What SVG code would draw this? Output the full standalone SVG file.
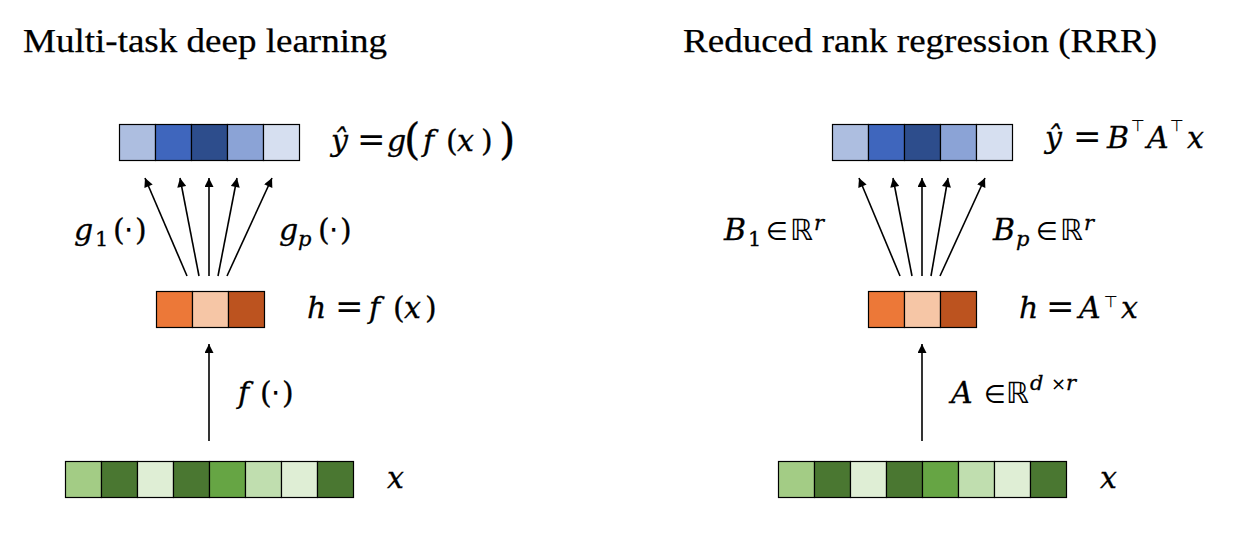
<svg xmlns="http://www.w3.org/2000/svg" width="1249" height="539" viewBox="0 0 1249 539">
<style>
.bg{fill:#ffffff}
.c{stroke:#000;stroke-width:1.2}
.t{font-family:"Liberation Serif",serif;font-size:34px;fill:#000;stroke:#000;stroke-width:0.25}
.m{font-family:"DejaVu Serif",serif;font-style:italic;font-size:30px;fill:#000;stroke:#000;stroke-width:0.3}
.u{font-family:"DejaVu Sans",sans-serif;font-style:normal;stroke-width:0}
.up{font-family:"DejaVu Serif",serif;font-style:normal}
.a{stroke:#000;stroke-width:1.6;fill:none;marker-end:url(#ah)}
.b1{fill:#ADBEE0}.b2{fill:#3F66BD}.b3{fill:#2D4D8C}.b4{fill:#8BA3D6}.b5{fill:#D6DFF0}
.o1{fill:#EC7838}.o2{fill:#F6C6A6}.o3{fill:#BC531F}
.g1{fill:#A3CC85}.g2{fill:#4A7731}.g3{fill:#DFEED5}.g4{fill:#66A544}.g5{fill:#C0DEAF}
</style>
<defs>
<marker id="ah" viewBox="0 0 10 10" refX="10" refY="5" markerWidth="11" markerHeight="9" markerUnits="userSpaceOnUse" orient="auto">
<path d="M0,0 L10,5 L0,10 z" fill="#000"/>
</marker>
</defs>
<rect class="bg" x="0" y="0" width="1249" height="539"/>

<g id="title-left"><text class="t" x="23" y="52" textLength="364" lengthAdjust="spacingAndGlyphs">Multi-task deep learning</text></g>
<g id="title-right"><text class="t" x="683" y="52" textLength="474" lengthAdjust="spacingAndGlyphs">Reduced rank regression (RRR)</text></g>

<g id="left-y">
<rect class="c b1" x="119.5" y="124.5" width="36" height="36"/>
<rect class="c b2" x="155.5" y="124.5" width="36" height="36"/>
<rect class="c b3" x="191.5" y="124.5" width="36" height="36"/>
<rect class="c b4" x="227.5" y="124.5" width="36" height="36"/>
<rect class="c b5" x="263.5" y="124.5" width="36" height="36"/>
<text class="m" y="151"><tspan x="331">ŷ</tspan><tspan class="u" x="357" font-size="34">=</tspan><tspan x="387">g</tspan><tspan class="up" x="404" font-size="42" dy="3">(</tspan><tspan x="423" dy="-3">f</tspan><tspan class="up" x="446">(</tspan><tspan x="457">x</tspan><tspan class="up" x="481">)</tspan><tspan class="up" x="499" font-size="42" dy="3">)</tspan></text>
</g>

<g id="left-h">
<rect class="c o1" x="156.5" y="291.5" width="36" height="36"/>
<rect class="c o2" x="192.5" y="291.5" width="36" height="36"/>
<rect class="c o3" x="228.5" y="291.5" width="36" height="36"/>
<text class="m" y="318"><tspan x="307">h</tspan><tspan class="u" x="335" font-size="34">=</tspan><tspan x="369">f</tspan><tspan class="up" x="393">(</tspan><tspan x="404">x</tspan><tspan class="up" x="425">)</tspan></text>
</g>

<g id="left-x">
<rect class="c g1" x="65.5" y="461.5" width="36" height="36"/>
<rect class="c g2" x="101.5" y="461.5" width="36" height="36"/>
<rect class="c g3" x="137.5" y="461.5" width="36" height="36"/>
<rect class="c g2" x="173.5" y="461.5" width="36" height="36"/>
<rect class="c g4" x="209.5" y="461.5" width="36" height="36"/>
<rect class="c g5" x="245.5" y="461.5" width="36" height="36"/>
<rect class="c g3" x="281.5" y="461.5" width="36" height="36"/>
<rect class="c g2" x="317.5" y="461.5" width="36" height="36"/>
<text class="m" x="387" y="488">x</text>
</g>

<g id="left-labels">
<text class="m" y="240"><tspan x="74">g</tspan><tspan class="up" x="95" font-size="21" dy="6">1</tspan><tspan class="up" x="113" dy="-6">(</tspan><tspan class="u" x="124">⋅</tspan><tspan class="up" x="135">)</tspan></text>
<text class="m" y="240"><tspan x="279">g</tspan><tspan x="298" font-size="21" dy="6">p</tspan><tspan class="up" x="318" dy="-6">(</tspan><tspan class="u" x="329">⋅</tspan><tspan class="up" x="340">)</tspan></text>
<text class="m" y="403"><tspan x="238">f</tspan><tspan class="up" x="260">(</tspan><tspan class="u" x="271">⋅</tspan><tspan class="up" x="282">)</tspan></text>
</g>

<g id="right-y">
<rect class="c b1" x="832.5" y="124.5" width="36" height="36"/>
<rect class="c b2" x="868.5" y="124.5" width="36" height="36"/>
<rect class="c b3" x="904.5" y="124.5" width="36" height="36"/>
<rect class="c b4" x="940.5" y="124.5" width="36" height="36"/>
<rect class="c b5" x="976.5" y="124.5" width="36" height="36"/>
<text class="m" y="148"><tspan x="1045">ŷ</tspan><tspan class="u" x="1073" font-size="34">=</tspan><tspan x="1107">B</tspan><tspan class="u" x="1131" font-size="16" dy="-17">⊤</tspan><tspan x="1147" dy="17">A</tspan><tspan class="u" x="1170" font-size="16" dy="-17">⊤</tspan><tspan x="1187" dy="17">x</tspan></text>
</g>

<g id="right-h">
<rect class="c o1" x="868.5" y="291.5" width="36" height="36"/>
<rect class="c o2" x="904.5" y="291.5" width="36" height="36"/>
<rect class="c o3" x="940.5" y="291.5" width="36" height="36"/>
<text class="m" y="318"><tspan x="1019">h</tspan><tspan class="u" x="1046" font-size="34">=</tspan><tspan x="1079">A</tspan><tspan class="u" x="1104" font-size="16" dy="-11">⊤</tspan><tspan x="1121" dy="11">x</tspan></text>
</g>

<g id="right-x">
<rect class="c g1" x="778.5" y="461.5" width="36" height="36"/>
<rect class="c g2" x="814.5" y="461.5" width="36" height="36"/>
<rect class="c g3" x="850.5" y="461.5" width="36" height="36"/>
<rect class="c g2" x="886.5" y="461.5" width="36" height="36"/>
<rect class="c g4" x="922.5" y="461.5" width="36" height="36"/>
<rect class="c g5" x="958.5" y="461.5" width="36" height="36"/>
<rect class="c g3" x="994.5" y="461.5" width="36" height="36"/>
<rect class="c g2" x="1030.5" y="461.5" width="36" height="36"/>
<text class="m" x="1100" y="488">x</text>
</g>

<g id="right-labels">
<text class="m" y="240"><tspan x="724">B</tspan><tspan class="up" x="748" font-size="21" dy="6">1</tspan><tspan class="u" x="766" font-size="25" dy="-6">∈</tspan><tspan class="u" x="790" font-size="29">ℝ</tspan><tspan x="814" font-size="21" dy="-10">r</tspan></text>
<text class="m" y="240"><tspan x="993">B</tspan><tspan x="1016" font-size="21" dy="6">p</tspan><tspan class="u" x="1036" font-size="25" dy="-6">∈</tspan><tspan class="u" x="1060" font-size="29">ℝ</tspan><tspan x="1084" font-size="21" dy="-10">r</tspan></text>
<text class="m" y="403"><tspan x="951">A</tspan><tspan class="u" x="984" font-size="25">∈</tspan><tspan class="u" x="1006" font-size="29">ℝ</tspan><tspan x="1030" font-size="21" dy="-13">d</tspan><tspan class="u" x="1051" font-size="18">×</tspan><tspan x="1066" font-size="21">r</tspan></text>
</g>

<g id="connectors">
<line class="a" x1="187" y1="276" x2="145" y2="178"/>
<line class="a" x1="199" y1="276" x2="180" y2="178"/>
<line class="a" x1="209" y1="276" x2="209" y2="178"/>
<line class="a" x1="218" y1="276" x2="237" y2="178"/>
<line class="a" x1="227" y1="276" x2="272" y2="178"/>
<line class="a" x1="209" y1="441" x2="209" y2="344"/>
<line class="a" x1="900" y1="276" x2="859" y2="178"/>
<line class="a" x1="912" y1="276" x2="893" y2="178"/>
<line class="a" x1="922" y1="276" x2="922" y2="178"/>
<line class="a" x1="931" y1="276" x2="948" y2="178"/>
<line class="a" x1="940" y1="276" x2="985" y2="178"/>
<line class="a" x1="922" y1="441" x2="922" y2="344"/>
</g>
</svg>
